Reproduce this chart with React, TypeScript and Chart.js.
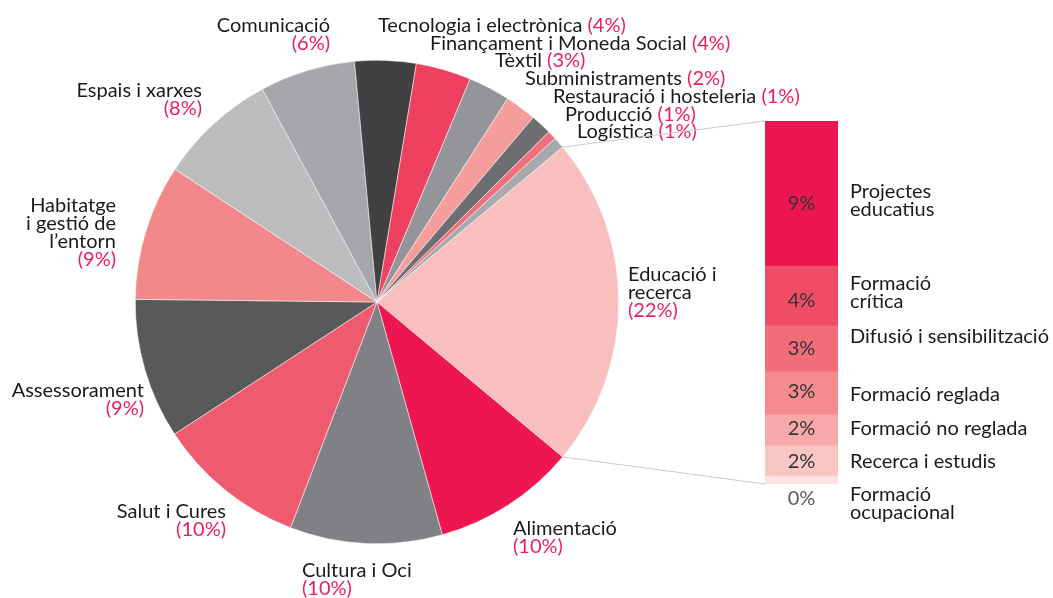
import React, { useEffect, useRef } from 'react';
import { Chart, registerables } from 'chart.js';

Chart.register(...registerables);

// ---------- data ----------
const categories = [
  'Educació i recerca',
  'Alimentació',
  'Cultura i Oci',
  'Salut i Cures',
  'Assessorament',
  'Habitatge i gestió de l’entorn',
  'Espais i xarxes',
  'Comunicació',
  'Tecnologia i electrònica',
  'Finançament i Moneda Social',
  'Tèxtil',
  'Subministraments',
  'Restauració i hosteleria',
  'Producció',
  'Logística',
];
const shares = [22.2, 9.6, 10.2, 10.0, 9.4, 9.1, 7.9, 6.4, 4.1, 3.7, 2.8, 2.1, 1.4, 0.6, 0.75];
const shareLabels = ['22%', '10%', '10%', '10%', '9%', '9%', '8%', '6%', '4%', '4%', '3%', '2%', '1%', '1%', '1%'];

const eduCategories = [
  'Projectes educatius',
  'Formació crítica',
  'Difusió i sensibilització',
  'Formació reglada',
  'Formació no reglada',
  'Recerca i estudis',
  'Formació ocupacional',
];
const eduShares = [8.87, 3.67, 2.81, 2.63, 1.9, 1.88, 0.45];
const eduLabels = ['9%', '4%', '3%', '3%', '2%', '2%', '0%'];

// ---------- styles ----------
const W = 1053;
const H = 598;
const FONT_FAMILY = 'Lato, "Noto Sans", sans-serif';
const FONT_SIZE = 20;
const LINE_H = 18;
const TEXT = '#1a1a1a';
const PINK = '#ec1e5a';

const pieColors = [
  '#f9bfbe', '#ed1651', '#808184', '#ef5b6e', '#58595b', '#f3888a', '#bcbdbf', '#a6a7aa',
  '#414042', '#ef4060', '#939598', '#f59c9c', '#6d6e71', '#f26e7d', '#a7a9ac',
];
const eduColors = ['#ed1651', '#ef4d65', '#f16d7a', '#f48b8e', '#f7a8a8', '#fac6c4', '#fde4e1'];

// label layout relative to pie centre (px)
const pieLabelLayout: { dx: number; dy: number; align: 'left' | 'right'; lines?: string[]; inline?: boolean }[] = [
  { dx: 251, dy: -21, align: 'left', lines: ['Educació i', 'recerca'] },
  { dx: 136, dy: 233, align: 'left' },
  { dx: -75, dy: 275, align: 'left' },
  { dx: -151, dy: 216, align: 'right' },
  { dx: -233, dy: 95, align: 'right' },
  { dx: -261, dy: -90, align: 'right', lines: ['Habitatge', 'i gestió de', 'l’entorn'] },
  { dx: -175, dy: -205, align: 'right' },
  { dx: -47, dy: -270.5, align: 'right' },
  { dx: 1, dy: -270.5, align: 'left', inline: true },
  { dx: 53, dy: -252, align: 'left', inline: true },
  { dx: 118, dy: -235.3, align: 'left', inline: true },
  { dx: 148, dy: -217, align: 'left', inline: true },
  { dx: 176, dy: -199.3, align: 'left', inline: true },
  { dx: 188, dy: -181.3, align: 'left', inline: true },
  { dx: 200, dy: -163.7, align: 'left', inline: true },
];

// baseline offsets from the centre of each bar segment
const eduPctOffsets = [16.5, 11, 6, 4.5, 4.5, 6.5, 24.5];
const eduTextOffsets = [4.8, -6, -6.3, 7.2, 4.5, 6.5, 20.2];
const eduTextLines = [
  ['Projectes', 'educatius'],
  ['Formació', 'crítica'],
  ['Difusió i sensibilització'],
  ['Formació reglada'],
  ['Formació no reglada'],
  ['Recerca i estudis'],
  ['Formació', 'ocupacional'],
];

const font = () => `${FONT_SIZE}px ${FONT_FAMILY}`;

export default function App() {
  const pieRef = useRef<HTMLCanvasElement | null>(null);
  const barRef = useRef<HTMLCanvasElement | null>(null);

  useEffect(() => {
    if (!pieRef.current || !barRef.current) return;
    const total = shares.reduce((a, b) => a + b, 0);
    const rotation = 90 - (shares[0] / total) * 180;

    const pieLabels = {
      id: 'pieLabels',
      afterDraw(chart: any) {
        const ctx = chart.ctx as CanvasRenderingContext2D;
        const arc = chart.getDatasetMeta(0).data[0];
        const cx = arc.x;
        const cy = arc.y;
        ctx.save();
        ctx.font = font();
        ctx.textBaseline = 'alphabetic';
        pieLabelLayout.forEach((L, i) => {
          const x = cx + L.dx;
          const y = cy + L.dy;
          const pct = '(' + shareLabels[i] + ')';
          if (L.inline) {
            const main = categories[i] + ' ';
            ctx.textAlign = 'left';
            ctx.fillStyle = TEXT;
            ctx.fillText(main, x, y);
            const w = ctx.measureText(main).width;
            ctx.fillStyle = PINK;
            ctx.fillText(pct, x + w, y);
          } else {
            const lines = L.lines || [categories[i]];
            ctx.textAlign = L.align;
            ctx.fillStyle = TEXT;
            lines.forEach((ln, k) => ctx.fillText(ln, x, y + k * LINE_H));
            ctx.fillStyle = PINK;
            ctx.fillText(pct, x, y + lines.length * LINE_H);
          }
        });
        ctx.restore();
      },
    };

    const pie = new Chart(pieRef.current, {
      type: 'pie',
      data: {
        labels: categories,
        datasets: [
          {
            data: shares,
            backgroundColor: pieColors,
            borderColor: '#ffffff',
            borderWidth: 0.5,
          },
        ],
      },
      options: {
        responsive: false,
        animation: false,
        rotation,
        layout: { padding: { left: 135, right: 434, top: 60, bottom: 54 } },
        plugins: { legend: { display: false }, tooltip: { enabled: false } },
      },
      plugins: [pieLabels],
    } as any);

    const order = eduShares.map((_, i) => eduShares.length - 1 - i); // bottom first
    const eduTotal = eduShares.reduce((a, b) => a + b, 0);

    const barDecor = {
      id: 'barDecor',
      beforeDatasetsDraw(chart: any) {
        const ctx = chart.ctx as CanvasRenderingContext2D;
        const arc: any = pie.getDatasetMeta(0).data[0];
        const topEl: any = chart.getDatasetMeta(order.length - 1).data[0];
        const botEl: any = chart.getDatasetMeta(0).data[0];
        const left = topEl.x - topEl.width / 2;
        const r = arc.outerRadius;
        ctx.save();
        ctx.strokeStyle = '#c9c9c9';
        ctx.lineWidth = 1;
        ctx.beginPath();
        ctx.moveTo(arc.x + r * Math.cos(arc.startAngle), arc.y + r * Math.sin(arc.startAngle));
        ctx.lineTo(left, topEl.y);
        ctx.moveTo(arc.x + r * Math.cos(arc.endAngle), arc.y + r * Math.sin(arc.endAngle));
        ctx.lineTo(left, botEl.base);
        ctx.stroke();
        ctx.restore();
      },
      afterDraw(chart: any) {
        const ctx = chart.ctx as CanvasRenderingContext2D;
        ctx.save();
        ctx.font = font();
        ctx.textBaseline = 'alphabetic';
        order.forEach((subIdx, dsIdx) => {
          const el: any = chart.getDatasetMeta(dsIdx).data[0];
          const mid = (el.y + el.base) / 2;
          ctx.textAlign = 'center';
          ctx.fillStyle = subIdx === eduShares.length - 1 ? '#58595b' : '#333335';
          ctx.fillText(eduLabels[subIdx], el.x, mid + eduPctOffsets[subIdx]);
          ctx.textAlign = 'left';
          ctx.fillStyle = TEXT;
          const tx = el.x + el.width / 2 + 12;
          eduTextLines[subIdx].forEach((ln, k) =>
            ctx.fillText(ln, tx, mid + eduTextOffsets[subIdx] + k * LINE_H)
          );
        });
        ctx.restore();
      },
    };

    const bar = new Chart(barRef.current, {
      type: 'bar',
      data: {
        labels: ['Educació i recerca'],
        datasets: order.map((i) => ({
          label: eduCategories[i],
          data: [eduShares[i]],
          backgroundColor: eduColors[i],
          borderWidth: 0,
          barPercentage: 1,
          categoryPercentage: 1,
        })),
      },
      options: {
        responsive: false,
        animation: false,
        layout: { padding: { left: 765, right: 215, top: 121, bottom: 114 } },
        scales: {
          x: { display: false, stacked: true },
          y: { display: false, stacked: true, min: 0, max: eduTotal },
        },
        plugins: { legend: { display: false }, tooltip: { enabled: false } },
      },
      plugins: [barDecor],
    } as any);

    return () => {
      bar.destroy();
      pie.destroy();
    };
  }, []);

  const canvasStyle: React.CSSProperties = {
    position: 'absolute',
    left: 0,
    top: 0,
    width: W,
    height: H,
    display: 'block',
  };

  return (
    <div style={{ position: 'fixed', left: 0, top: 0, width: W, height: H, background: '#ffffff' }}>
      <canvas ref={pieRef} width={W} height={H} style={canvasStyle} />
      <canvas ref={barRef} width={W} height={H} style={canvasStyle} />
    </div>
  );
}
